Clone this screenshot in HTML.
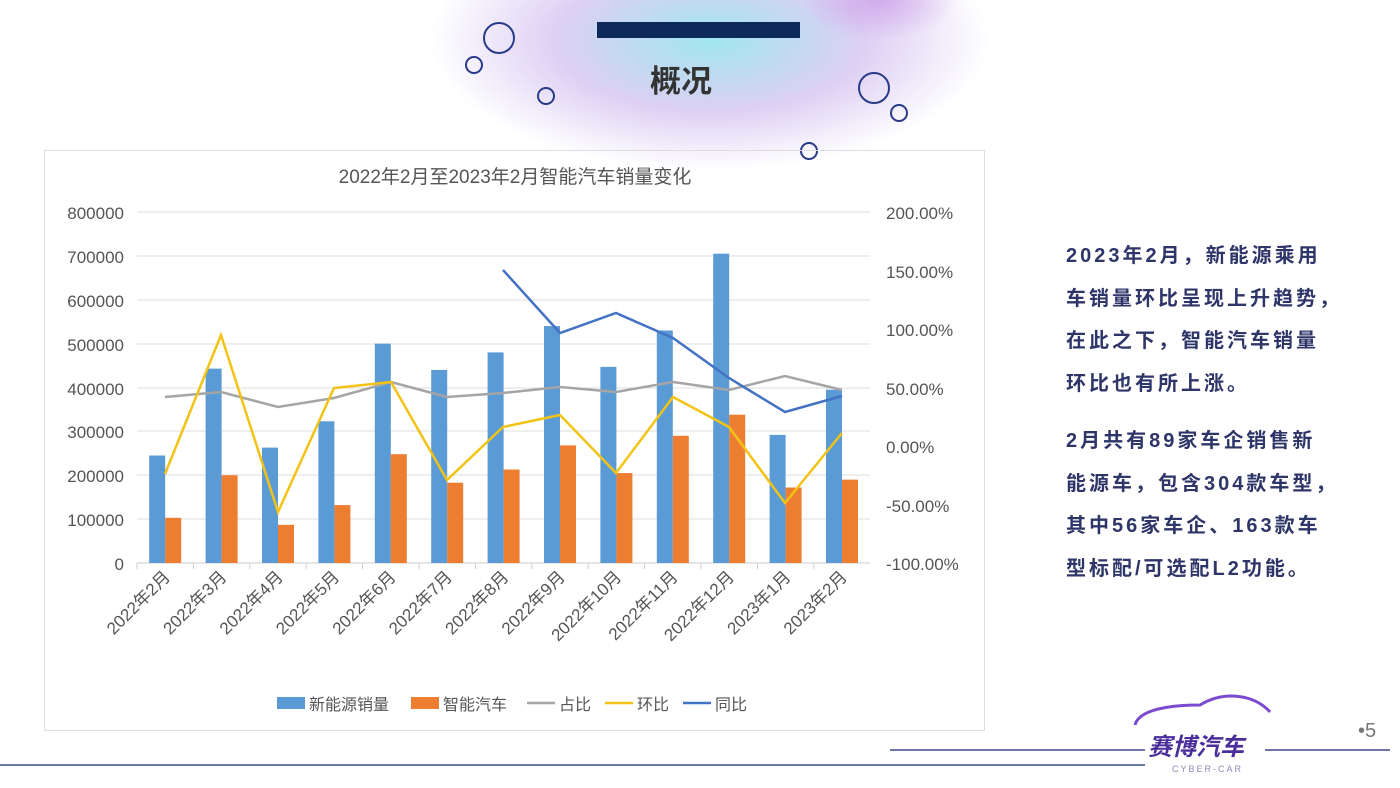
<!DOCTYPE html>
<html><head><meta charset="utf-8"><style>
body{margin:0;width:1400px;height:788px;overflow:hidden;background:#fff;position:relative;font-family:"Liberation Sans","Noto Sans CJK SC",sans-serif}
.abs{position:absolute}
.rt{position:absolute;left:1066px;font-size:20px;font-weight:bold;color:#2e3568;line-height:42.5px;letter-spacing:3px}
</style></head><body>
<div class="abs" style="left:430px;top:-90px;width:560px;height:260px;background:radial-gradient(closest-side,rgba(120,220,230,.7),rgba(180,150,230,.45) 55%,rgba(255,255,255,0) 100%)"></div>
<div class="abs" style="left:800px;top:-40px;width:160px;height:80px;background:radial-gradient(closest-side,rgba(200,150,230,.7),rgba(255,255,255,0))"></div>
<div class="abs" style="left:597px;top:22px;width:203px;height:16px;background:#0d2a5a"></div>
<div class="abs" style="left:650px;top:56px;font-size:31px;font-weight:bold;color:#333">概况</div>
<svg class="abs" style="left:0;top:0" width="1400" height="788">
<g fill="none" stroke="#2a3a8a" stroke-width="2">
<circle cx="499" cy="38" r="15"/><circle cx="474" cy="65" r="8"/><circle cx="546" cy="96" r="8"/>
<circle cx="874" cy="88" r="15"/><circle cx="899" cy="113" r="8"/><circle cx="809" cy="151" r="8"/></g>
<rect x="44.5" y="150.5" width="940" height="580" fill="none" stroke="#ddd"/>
<text x="515" y="183" font-size="19" fill="#555" text-anchor="middle">2022年2月至2023年2月智能汽车销量变化</text>
<g stroke="#ddd" stroke-width="1">
<line x1="137" x2="870" y1="212" y2="212"/><line x1="137" x2="870" y1="256" y2="256"/><line x1="137" x2="870" y1="300" y2="300"/><line x1="137" x2="870" y1="344" y2="344"/><line x1="137" x2="870" y1="388" y2="388"/><line x1="137" x2="870" y1="431" y2="431"/><line x1="137" x2="870" y1="475" y2="475"/><line x1="137" x2="870" y1="519" y2="519"/><line x1="137" x2="870" y1="563" y2="563" stroke="#ccc"/>
</g>
<g font-size="17" fill="#555" text-anchor="end">
<text x="124" y="219">800000</text><text x="124" y="263">700000</text><text x="124" y="307">600000</text><text x="124" y="351">500000</text><text x="124" y="395">400000</text><text x="124" y="438">300000</text><text x="124" y="482">200000</text><text x="124" y="526">100000</text><text x="124" y="570">0</text>
</g>
<g font-size="17" fill="#555">
<text x="886" y="219">200.00%</text><text x="886" y="278">150.00%</text><text x="886" y="336">100.00%</text><text x="886" y="395">50.00%</text><text x="886" y="453">0.00%</text><text x="886" y="512">-50.00%</text><text x="886" y="570">-100.00%</text>
</g>
<g id="bars"></g>
<polyline fill="none" stroke="#a5a5a5" stroke-width="2.5" points="165,397 221,392 278,407 334,398 391,382 447,397 503,393 560,387 616,392 673,382 729,390 785,376 842,390"/>
<polyline fill="none" stroke="#f2c314" stroke-width="2.5" points="165,474 221,335 278,512 334,388 391,382 447,480 503,427 560,415 616,473 673,397 729,427 785,503 842,433"/>
<polyline fill="none" stroke="#4472c4" stroke-width="2.5" points="503,270 560,333 616,313 673,338 729,378 785,412 842,396"/>
<g id="xl" font-size="17" fill="#555"></g>
<g font-size="16" fill="#555">
<rect x="277" y="697" width="28" height="12" fill="#5b9bd5"/><text x="309" y="710">新能源销量</text>
<rect x="411" y="697" width="28" height="12" fill="#ed7d31"/><text x="443" y="710">智能汽车</text>
<line x1="527" x2="555" y1="703" y2="703" stroke="#a5a5a5" stroke-width="2.5"/><text x="559" y="710">占比</text>
<line x1="605" x2="633" y1="703" y2="703" stroke="#f2c314" stroke-width="2.5"/><text x="637" y="710">环比</text>
<line x1="683" x2="711" y1="703" y2="703" stroke="#4472c4" stroke-width="2.5"/><text x="715" y="710">同比</text>
</g>
<line x1="0" x2="1145" y1="765" y2="765" stroke="#3a4a8a" stroke-width="1.5"/>
<line x1="890" x2="1145" y1="750" y2="750" stroke="#3a4a8a" stroke-width="1.5"/>
<line x1="1265" x2="1390" y1="750" y2="750" stroke="#3a4a8a" stroke-width="1.5"/>
<path d="M1135 725 C1140 705 1190 705 1200 705 C1225 690 1255 695 1270 712" fill="none" stroke="#7a4ad0" stroke-width="3"/>
<text x="1148" y="755" font-size="24" font-weight="bold" font-style="italic" fill="#4a2f9a">赛博汽车</text>
<text x="1172" y="772" font-size="9" fill="#8a8ac0" letter-spacing="2">CYBER-CAR</text>
<text x="1358" y="737" font-size="20" fill="#777">•5</text>
</svg>
<div class="rt" style="top:235px">2023年2月，新能源乘用<br>车销量环比呈现上升趋势，<br>在此之下，智能汽车销量<br>环比也有所上涨。</div>
<div class="rt" style="top:420px">2月共有89家车企销售新<br>能源车，包含304款车型，<br>其中56家车企、163款车<br>型标配/可选配L2功能。</div>
<script>
var b=[245000,443000,263000,323000,500000,440000,480000,540000,447000,530000,705000,292000,395000];
var o=[103000,200000,87000,132000,248000,183000,213000,268000,205000,290000,338000,172000,190000];
var lab=["2022年2月","2022年3月","2022年4月","2022年5月","2022年6月","2022年7月","2022年8月","2022年9月","2022年10月","2022年11月","2022年12月","2023年1月","2023年2月"];
var s="",x="",k=351/800000;
for(var i=0;i<13;i++){var c=137+56.4*(i+0.5);
s+='<rect x="'+(c-16)+'" y="'+(563-b[i]*k)+'" width="16" height="'+b[i]*k+'" fill="#5b9bd5"/>';
s+='<rect x="'+c+'" y="'+(563-o[i]*k)+'" width="16" height="'+o[i]*k+'" fill="#ed7d31"/>';
s+='<line x1="'+(137+56.4*i)+'" x2="'+(137+56.4*i)+'" y1="563" y2="569" stroke="#ccc"/>';
x+='<text text-anchor="end" transform="translate('+(c+6)+',578) rotate(-45)">'+lab[i]+'</text>';}
document.getElementById("bars").innerHTML=s;document.getElementById("xl").innerHTML=x;
</script>
</body></html>
